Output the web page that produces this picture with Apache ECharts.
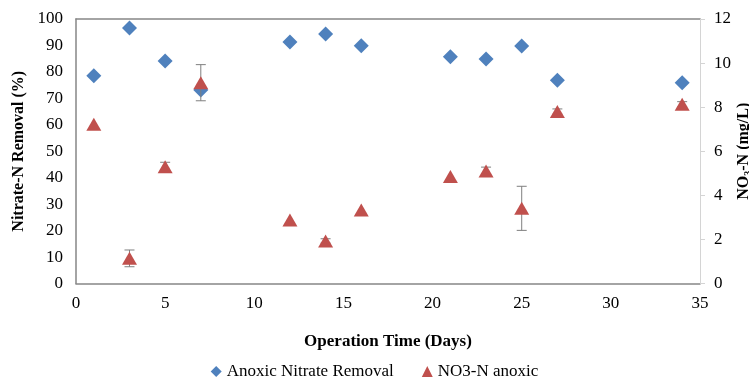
<!DOCTYPE html>
<html>
<head>
<meta charset="utf-8">
<script src="https://cdn.jsdelivr.net/npm/echarts@6/dist/echarts.min.js"></script>
<style>
  html, body { margin: 0; padding: 0; background: #fff; }
  #chart { width: 749px; height: 387px; }
</style>
</head>
<body>
<div id="chart"></div>
<script>
// Operation days
const days = [1, 3, 5, 7, 12, 14, 16, 21, 23, 25, 27, 34];
// Anoxic nitrate removal (%)
const removalPct = [78.5, 96.6, 84.1, 73.2, 91.3, 94.3, 89.9, 85.7, 84.9, 89.8, 76.8, 75.9];
// NO3-N in anoxic zone (mg/L) and its standard deviation
const no3Anoxic = [7.22, 1.14, 5.30, 9.11, 2.88, 1.93, 3.33, 4.85, 5.10, 3.41, 7.80, 8.13];
const no3Err = [0, 0.38, 0.2, 0.82, 0, 0.1, 0, 0, 0.18, 1.0, 0.12, 0.12];
// Axis ticks
const xTicks = { min: 0, max: 35, interval: 5 };
const leftTicks = { min: 0, max: 100, interval: 10 };
const rightTicks = { min: 0, max: 12, interval: 2 };

const font = 'Liberation Serif';
const blue = '#4F81BD';
const red = '#C0504D';

const removalData = days.map((d, i) => [d, removalPct[i]]);
const no3Data = days.map((d, i) => [d, no3Anoxic[i]]);
const errData = days.map((d, i) => [d, no3Anoxic[i] - no3Err[i], no3Anoxic[i] + no3Err[i]]);

const chart = echarts.init(document.getElementById('chart'));
chart.setOption({
  animation: false,
  backgroundColor: '#fff',
  grid: { left: 76, right: 49, top: 19, bottom: 103.5, containLabel: false, outerBoundsMode: 'none' },
  legend: {
    bottom: 2,
    left: 'center',
    itemGap: 28,
    itemWidth: 11,
    itemHeight: 11,
    textStyle: { fontFamily: font, fontSize: 17, color: '#000' },
    data: [
      { name: 'Anoxic Nitrate Removal', icon: 'diamond', itemStyle: { color: blue, opacity: 1 } },
      { name: 'NO3-N anoxic', icon: 'triangle', itemStyle: { color: red, opacity: 1 } }
    ]
  },
  xAxis: [{
    type: 'value',
    min: xTicks.min, max: xTicks.max, interval: xTicks.interval,
    name: 'Operation Time (Days)',
    nameLocation: 'middle',
    nameGap: 50,
    nameTextStyle: { fontFamily: font, fontSize: 17, fontWeight: 'bold', color: '#000' },
    axisLine: { onZero: false, lineStyle: { color: '#868686', width: 1.5 } },
    axisTick: { show: false },
    axisLabel: { fontFamily: font, fontSize: 17, color: '#000', margin: 12 },
    splitLine: { show: false }
  }, {
    type: 'value', position: 'top',
    min: xTicks.min, max: xTicks.max,
    axisLine: { onZero: false, lineStyle: { color: '#868686', width: 1.5 } },
    axisTick: { show: false }, axisLabel: { show: false }, splitLine: { show: false }
  }],
  yAxis: [{
    type: 'value',
    min: leftTicks.min, max: leftTicks.max, interval: leftTicks.interval,
    name: 'Nitrate-N Removal (%)',
    nameLocation: 'middle',
    nameGap: 47,
    nameTextStyle: { fontFamily: font, fontSize: 16, fontWeight: 'bold', color: '#000' },
    axisLine: { show: true, onZero: false, lineStyle: { color: '#868686', width: 1.5 } },
    axisTick: { show: false },
    axisLabel: { fontFamily: font, fontSize: 17, color: '#000', margin: 13 },
    splitLine: { show: false }
  }, {
    type: 'value',
    position: 'right',
    min: rightTicks.min, max: rightTicks.max, interval: rightTicks.interval,
    name: '{b|NO}{s|3}{b|-N (mg/L)}',
    nameLocation: 'middle',
    nameGap: 35,
    nameRotate: 90,
    nameMoveOverlap: false,
    nameTextStyle: {
      fontFamily: font, color: '#000',
      rich: {
        b: { fontFamily: font, fontSize: 16, fontWeight: 'bold', color: '#000' },
        s: { fontFamily: font, fontSize: 10, fontWeight: 'bold', color: '#000', verticalAlign: 'bottom', padding: [8, 0, 0, 0] }
      }
    },
    axisLine: { show: true, onZero: false, lineStyle: { color: '#d4d4d4', width: 1 } },
    axisTick: { show: true, length: 5, lineStyle: { color: '#d4d4d4' } },
    axisLabel: { fontFamily: font, fontSize: 17, color: '#000', margin: 14 },
    splitLine: { show: false }
  }],
  series: [{
    name: 'Anoxic Nitrate Removal',
    type: 'scatter',
    yAxisIndex: 0,
    symbol: 'diamond',
    symbolSize: [15, 15],
    itemStyle: { color: blue, opacity: 1 },
    data: removalData,
    z: 2
  }, {
    name: 'NO3-N err',
    type: 'custom',
    yAxisIndex: 1,
    data: errData,
    z: 3,
    renderItem: function (params, api) {
      const x = api.value(0);
      const lo = api.coord([x, api.value(1)]);
      const hi = api.coord([x, api.value(2)]);
      if (Math.abs(hi[1] - lo[1]) < 0.5) return null;
      const cap = 5;
      const style = { stroke: '#7f7f7f', lineWidth: 1 };
      return {
        type: 'group',
        children: [
          { type: 'line', shape: { x1: lo[0], y1: lo[1], x2: hi[0], y2: hi[1] }, style },
          { type: 'line', shape: { x1: lo[0] - cap, y1: lo[1], x2: lo[0] + cap, y2: lo[1] }, style },
          { type: 'line', shape: { x1: hi[0] - cap, y1: hi[1], x2: hi[0] + cap, y2: hi[1] }, style }
        ]
      };
    }
  }, {
    name: 'NO3-N anoxic',
    type: 'scatter',
    yAxisIndex: 1,
    symbol: 'triangle',
    symbolSize: [15, 13],
    itemStyle: { color: red, opacity: 1 },
    data: no3Data,
    z: 4
  }]
});
</script>
</body>
</html>
